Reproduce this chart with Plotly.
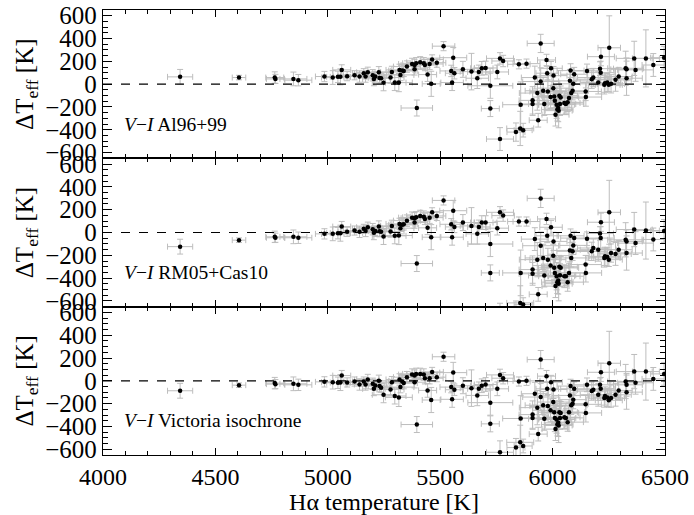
import plotly.graph_objects as go
from plotly.subplots import make_subplots

# H-alpha temperature [K]
t_halpha = [4343, 4605, 4764, 4767, 4847, 4869, 4985, 5022, 5045, 5056,
            5062, 5086, 5119, 5141, 5160, 5168, 5178, 5200, 5205, 5211,
            5227, 5230, 5237, 5248, 5279, 5285, 5298, 5316, 5319, 5323,
            5331, 5338, 5352, 5375, 5386, 5386, 5393, 5396, 5411, 5427,
            5432, 5444, 5453, 5460, 5464, 5485, 5515, 5549, 5553, 5558,
            5563, 5601, 5639, 5665, 5672, 5685, 5702, 5723, 5723, 5754,
            5766, 5780, 5766, 5837, 5850, 5856, 5858, 5869, 5884, 5911,
            5911, 5921, 5936, 5932, 5947, 5947, 5958, 5963, 5973, 5976,
            5979, 5991, 5993, 6003, 6004, 6007, 6010, 6013, 6018, 6021,
            6025, 6027, 6030, 6033, 6036, 6052, 6059, 6067, 6073, 6077,
            6080, 6083, 6089, 6092, 6096, 6147, 6148, 6153, 6174, 6181,
            6203, 6211, 6214, 6215, 6230, 6233, 6243, 6250, 6252, 6260,
            6280, 6294, 6325, 6329, 6329, 6363, 6369, 6415, 6448, 6496]

# Delta Teff for V-I Al96+99
dt_al96 = [64, 58, 58, 46, 46, 35, 67, 58, 64, 64,
           125, 70, 78, 67, 96, 67, 104, 78, 46, 67,
           104, 55, 52, 12, 58, 107, 14, 14, 125, 81,
           119, 116, 154, 177, 168, 130, 183, -209, 191, 183,
           168, 84, 177, 3, 217, 188, 333, 116, 14, 232,
           96, 130, 110, 52, 107, 139, 142, -14, -214, 107,
           226, 203, -481, -420, 174, -388, -180, -403, 180, -142,
           -174, 58, -316, -78, 23, 357, -58, -174, 212, 96,
           -64, -113, 139, -35, 75, -107, -145, -267, -180, -223,
           -209, -232, -101, -174, -116, -165, -174, -159, -122, 29,
           119, -78, -58, 3, 87, -64, -113, 116, 43, 58,
           14, 136, 101, 241, -6, 9, 14, -6, 319, 3,
           38, 67, 139, 52, 130, 226, 125, 226, 168, 232]

# Delta Teff for V-I RM05+Cas10
dt_rm05 = [-124, -67, -38, -46, -38, -46, -12, -12, -6, -6,
           52, 6, 17, 6, 32, 14, 46, 29, -3, 14,
           52, 12, 6, -35, 9, 58, -29, -26, 75, 38,
           67, 72, 104, 130, 125, 87, 133, -272, 145, 139,
           119, 41, 130, -41, 177, 145, 281, 72, -41, 191,
           49, 87, 58, -12, 49, 87, 87, -101, -354, 38,
           177, 148, -720, -680, 96, -617, -354, -632, 96, -325,
           -362, -58, -542, -238, -116, 299, -223, -377, 119, -29,
           -238, -290, 46, -203, -78, -310, -354, -470, -383, -435,
           -420, -449, -301, -374, -310, -383, -383, -435, -354, -157,
           -29, -223, -165, -113, -49, -281, -354, -55, -165, -136,
           -151, -9, -49, 90, -223, -209, -214, -238, 177, -180,
           -188, -151, -64, -180, -78, 26, -93, 17, -61, 14]

# Delta Teff for V-I Victoria isochrone
dt_vic = [-87, -38, -20, -29, -26, -35, -9, -12, -17, -15,
          46, -14, -6, -32, -6, -32, 12, -26, -70, -41,
          0, -46, -61, -122, -75, -12, -133, -145, 12, -55,
          -6, -20, 32, 55, 46, -12, 61, -383, 61, 55,
          23, -84, 23, -168, 78, 32, 211, -55, -162, 72,
          -78, -43, -64, -128, -70, -43, -32, -191, -377, -70,
          52, 23, -626, -585, -6, -539, -330, -571, 0, -296,
          -325, -113, -467, -235, -142, 186, -214, -333, 41, -70,
          -220, -258, -12, -186, -75, -275, -325, -423, -339, -383,
          -368, -391, -275, -325, -281, -319, -325, -362, -275, -128,
          -46, -214, -200, -165, -70, -206, -281, -35, -90, -78,
          -122, -35, -70, 75, -151, -133, -145, -171, 154, -151,
          -122, -84, -6, -99, -35, 81, -17, 81, 17, 61]

# errors
err_t = [56, 30, 40, 40, 60, 60, 40, 50, 50, 45,
         40, 40, 50, 60, 50, 50, 50, 60, 50, 40,
         45, 50, 40, 50, 60, 50, 50, 60, 60, 60,
         60, 60, 60, 60, 60, 50, 60, 70, 60, 60,
         50, 40, 60, 40, 50, 40, 50, 50, 50, 60,
         40, 50, 50, 50, 50, 50, 50, 100, 40, 50,
         60, 50, 60, 40, 50, 60, 80, 40, 60, 60,
         60, 60, 40, 80, 80, 60, 80, 70, 40, 50,
         80, 80, 50, 70, 60, 70, 70, 60, 80, 70,
         60, 60, 80, 70, 80, 70, 80, 70, 70, 80,
         60, 70, 70, 60, 60, 70, 70, 60, 70, 70,
         80, 60, 60, 60, 70, 70, 60, 60, 50, 60,
         70, 60, 80, 70, 70, 80, 80, 60, 50, 60]

err_dt = [65, 20, 50, 40, 60, 50, 45, 60, 50, 70,
          45, 40, 40, 50, 40, 50, 45, 50, 60, 40,
          50, 50, 40, 70, 50, 50, 70, 80, 50, 50,
          50, 50, 50, 50, 50, 50, 50, 70, 50, 50,
          50, 60, 50, 110, 40, 40, 40, 50, 70, 90,
          50, 70, 160, 90, 60, 60, 60, 110, 70, 60,
          50, 50, 100, 80, 40, 150, 200, 60, 40, 120,
          100, 100, 60, 150, 120, 80, 120, 100, 50, 60,
          100, 100, 60, 100, 80, 100, 120, 100, 120, 100,
          120, 150, 100, 100, 100, 100, 80, 80, 80, 100,
          60, 80, 80, 80, 60, 80, 80, 60, 80, 80,
          100, 60, 100, 80, 80, 80, 80, 60, 280, 80,
          100, 80, 150, 150, 100, 150, 100, 250, 100, 100]

y_ticks = [-600, -400, -200, 0, 200, 400, 600]
x_ticks = [4000, 4500, 5000, 5500, 6000, 6500]
labels = ["<i>V</i>\u2212<i>I</i> Al96+99",
          "<i>V</i>\u2212<i>I</i> RM05+Cas10",
          "<i>V</i>\u2212<i>I</i> Victoria isochrone"]
series = [dt_al96, dt_rm05, dt_vic]

FONT = "Liberation Serif"
fig = make_subplots(rows=3, cols=1, shared_xaxes=True, vertical_spacing=0)

for i, ys in enumerate(series):
    row = i + 1
    fig.add_trace(go.Scatter(
        x=t_halpha, y=ys, mode="markers",
        marker=dict(color="black", size=4.5),
        error_x=dict(type="data", array=err_t, color="#bdbdbd", thickness=1, width=3),
        error_y=dict(type="data", array=err_dt, color="#bdbdbd", thickness=1, width=3),
        showlegend=False), row=row, col=1)
    fig.add_shape(type="line", xref="x domain" if row == 1 else f"x{row} domain",
                  yref=f"y{'' if row == 1 else row}", x0=0, x1=1, y0=0, y1=0,
                  line=dict(color="black", width=1.2, dash="dash"))
    fig.add_annotation(xref="x domain" if row == 1 else f"x{row} domain",
                       yref="y domain" if row == 1 else f"y{row} domain",
                       x=0.034, y=0.23, xanchor="left", yanchor="middle",
                       text=labels[i], showarrow=False,
                       font=dict(family=FONT, size=19.5, color="black"))
    fig.update_yaxes(row=row, col=1, range=[-650, 650], tickvals=y_ticks,
                     ticks="inside", ticklen=9, tickwidth=1.2, tickcolor="black",
                     minor=dict(dtick=50, ticks="inside", ticklen=5, tickcolor="black", tickwidth=1),
                     showline=True, linecolor="black", linewidth=1.3, mirror="allticks",
                     showgrid=False, zeroline=False,
                     tickfont=dict(family=FONT, size=25, color="black"),
                     title=dict(text="\u0394T<sub>eff</sub> [K]", standoff=4,
                                font=dict(family=FONT, size=25, color="black")))
    fig.update_xaxes(row=row, col=1, range=[4000, 6500], tickvals=x_ticks,
                     ticks="inside", ticklen=7, tickwidth=1.2, tickcolor="black",
                     minor=dict(dtick=100, ticks="inside", ticklen=4, tickcolor="black", tickwidth=1),
                     showline=True, linecolor="black", linewidth=1.3, mirror="allticks",
                     showgrid=False, zeroline=False,
                     tickfont=dict(family=FONT, size=24, color="black"))

fig.update_xaxes(row=3, col=1, title=dict(text="H\u03b1 temperature [K]", standoff=2,
                 font=dict(family=FONT, size=24, color="black")))

fig.update_layout(width=694, height=515, plot_bgcolor="white", paper_bgcolor="white",
                  margin=dict(l=103, r=29, t=10, b=60, autoexpand=False),
                  font=dict(family=FONT, color="black"))

fig.write_html("out.html", config={"displayModeBar": False},
               post_script="document.body.style.margin='0';")
